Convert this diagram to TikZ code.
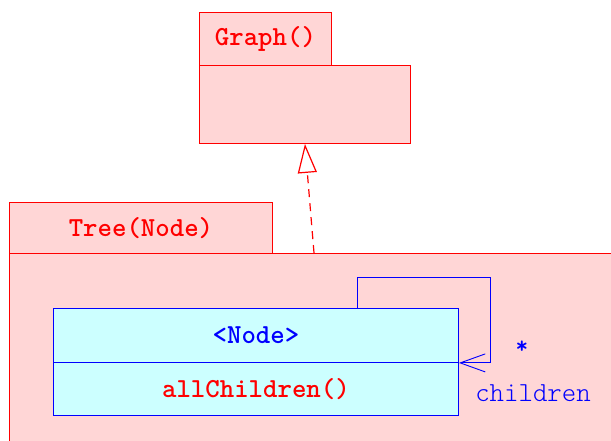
\documentclass[tikz,border=0pt]{standalone}
\usepackage{fontspec}
\setmainfont{lmmono10-regular.otf}[BoldFont=lmmonolt10-bold.otf]
\newfontfamily\thinmono{lmmonolt10-regular.otf}
\usetikzlibrary{arrows.meta}
\definecolor{pkgfill}{RGB}{255,214,214}
\definecolor{clsfill}{RGB}{204,255,255}
\begin{document}
\begin{tikzpicture}[x=1pt,y=-1pt,
  pkg/.style={draw=red, fill=pkgfill, line width=0.9pt, anchor=north west, inner sep=0pt},
  cls/.style={draw=blue, fill=clsfill, line width=0.9pt, anchor=north west, inner sep=0pt},
  lbl/.style={font=\fontsize{27.5}{30}\selectfont\bfseries},
  every node/.style={lbl}]
\useasboundingbox (0,0) rectangle (611,441);
\clip (0,0) rectangle (611,441);
% Graph package
\node[pkg, minimum width=211, minimum height=78] (gbody) at (199,65) {};
\node[pkg, minimum width=132, minimum height=53, text=red] (gtab) at (199,12) {Graph()};
% Tree package
\node[pkg, minimum width=620, minimum height=200] (tbody) at (9,253) {};
\node[pkg, minimum width=263, minimum height=51, text=red] (ttab) at (9,202) {Tree(Node)};
% Node class
\node[cls, minimum width=405, minimum height=54, text=blue] (ntop) at (53,308) {<Node>};
\node[cls, minimum width=405, minimum height=53, text=red] (nbot) at (53,362) {allChildren()};
% realization
\coordinate (treeattach) at (314,253);
\draw[red, line width=1.2pt, dash pattern=on 8pt off 6pt,
  -{Triangle[open, length=29pt, width=19pt, line width=1.2pt]}] (treeattach) -- (gbody.south);
% self association
\coordinate (loopstart) at (357,308);
\draw[blue, line width=0.9pt, -{Straight Barb[length=25pt, width=18pt, line width=0.9pt]}]
  (loopstart) |- (490,277) |- (ntop.south east);
\node[text=blue, font=\fontsize{24}{26}\selectfont\bfseries] (mult) at (522,347) {*};
\node[text=blue, font=\fontsize{27.5}{30}\thinmono] (role) at (533,393) {children};
\end{tikzpicture}
\end{document}
